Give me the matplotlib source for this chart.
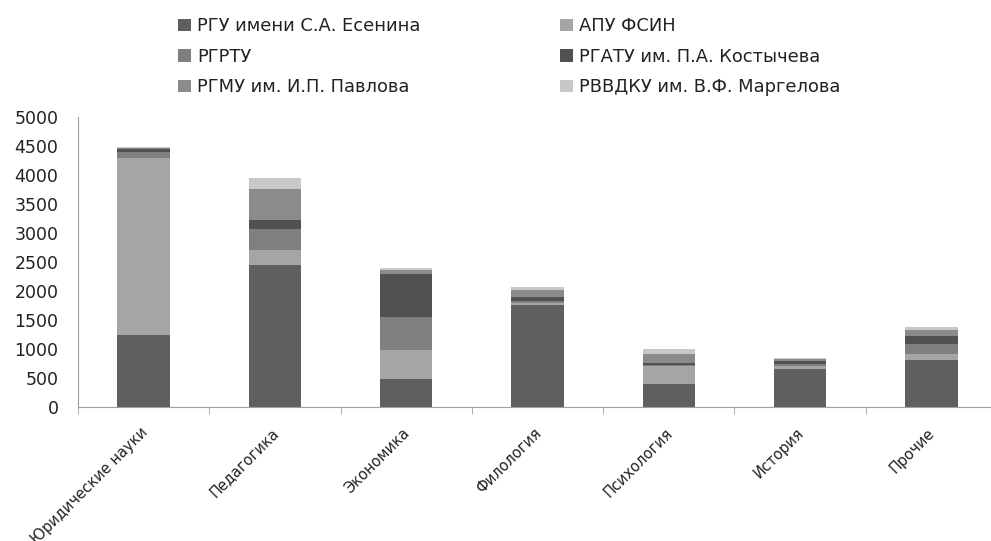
import numpy as np
import matplotlib
matplotlib.use('Agg')
import matplotlib.pyplot as plt
import matplotlib.transforms as mtransforms
from matplotlib.patches import Patch

# values (people per field, by university)
categories = ['Юридические науки', 'Педагогика', 'Экономика', 'Филология',
              'Психология', 'История', 'Прочие']
universities = ['РГУ имени С.А. Есенина', 'АПУ ФСИН', 'РГРТУ',
                'РГАТУ им. П.А. Костычева', 'РГМУ им. И.П. Павлова',
                'РВВДКУ им. В.Ф. Маргелова']
rgu = [1250, 2450, 490, 1757, 400, 655, 805]
apu = [3050, 250, 490, 40, 310, 55, 115]
rgrtu = [95, 370, 570, 30, 20, 40, 170]
rgatu = [55, 160, 750, 70, 25, 40, 140]
rgmu = [15, 530, 70, 115, 165, 35, 95]
rvvdku = [15, 190, 20, 57, 75, 15, 55]
colors = ['#5f5f5f', '#a5a5a5', '#7f7f7f', '#515151', '#8b8b8b', '#c8c8c8']

plt.rcParams['font.family'] = ['DejaVu Sans']
plt.rcParams['text.color'] = '#222222'

fig = plt.figure(figsize=(9.91, 5.41), dpi=100)
W, H = 991, 541
ax = fig.add_axes([78 / W, 1 - 407 / H, (997 - 78) / W, (407 - 117) / H])

series = [rgu, apu, rgrtu, rgatu, rgmu, rvvdku]
x = np.arange(len(categories))
bottom = np.zeros(len(categories))
for vals, col in zip(series, colors):
    ax.bar(x, vals, width=0.4, bottom=bottom, color=col, edgecolor='none')
    bottom += np.array(vals)

ax.set_xlim(-0.5, len(categories) - 0.5)
ax.set_ylim(0, 5000)
ax.set_yticks(range(0, 5001, 500))
ax.tick_params(axis='y', length=0, labelsize=12.5, pad=14, labelcolor='#222222')
ax.set_xticks(x)
ax.set_xticklabels(categories, rotation=45, ha='right', va='top',
                   rotation_mode='anchor', fontsize=10.5, color='#222222')
ax.tick_params(axis='x', length=0, pad=13)
offset = mtransforms.ScaledTranslation(-4 / 100, 0, fig.dpi_scale_trans)
for lbl in ax.get_xticklabels():
    lbl.set_transform(lbl.get_transform() + offset)
ax.set_xticks(np.arange(-0.5, len(categories)), minor=True)
ax.tick_params(axis='x', which='minor', length=5, color='#a0a0a0')
for s in ['top', 'right']:
    ax.spines[s].set_visible(False)
for s in ['left', 'bottom']:
    ax.spines[s].set_color('#a0a0a0')

handles = [Patch(facecolor=c, edgecolor='none') for c in colors]
order = [0, 2, 4, 1, 3, 5]
fig.legend([handles[i] for i in order], [universities[i] for i in order],
           ncol=2, loc='upper left', bbox_to_anchor=(162 / W, 1 - 1 / H),
           frameon=False, fontsize=12.9, handlelength=0.7, handleheight=0.7,
           handletextpad=0.35, columnspacing=7.8, labelspacing=0.7)

fig.savefig('out.png', dpi=100)
